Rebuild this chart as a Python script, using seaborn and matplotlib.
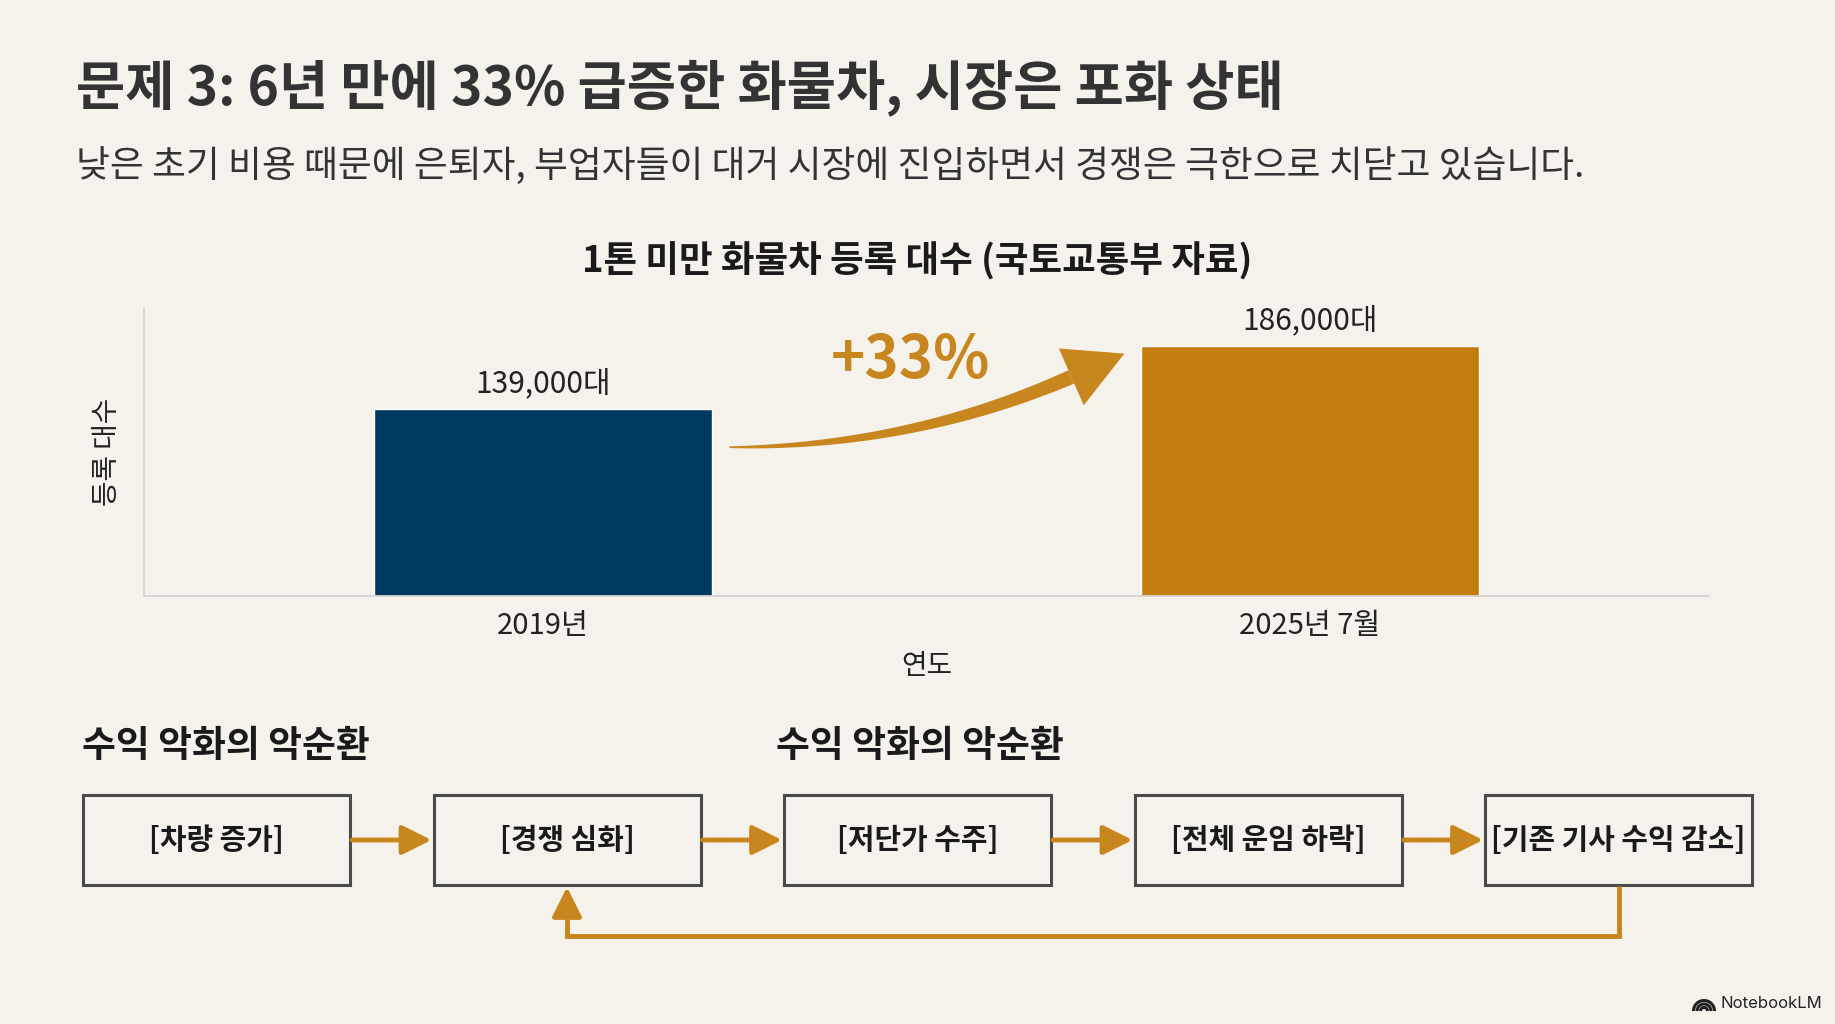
import numpy as np
import seaborn as sns
import pandas as pd
from matplotlib import pyplot as plt
from matplotlib.patches import Rectangle, Polygon, Arc
from matplotlib.transforms import IdentityTransform

# chart data
periods = ["2019년", "2025년 7월"]
registrations = [139000, 186000]
value_labels = ["139,000대", "186,000대"]
growth_label = "+33%"

title = "문제 3: 6년 만에 33% 급증한 화물차, 시장은 포화 상태"
subtitle = "낮은 초기 비용 때문에 은퇴자, 부업자들이 대거 시장에 진입하면서 경쟁은 극한으로 치닫고 있습니다."
chart_title = "1톤 미만 화물차 등록 대수 (국토교통부 자료)"
y_label = "등록 대수"
x_label = "연도"

# vicious circle
cycle_headers = ["수익 악화의 악순환", "수익 악화의 악순환"]
cycle_steps = ["[차량 증가]", "[경쟁 심화]", "[저단가 수주]", "[전체 운임 하락]", "[기존 기사 수익 감소]"]

BG = "#F5F2EC"
NAVY = "#003A61"
ORANGE = "#C47C0E"
ARROW = "#C8861E"
TEXT = "#333333"

sns.set_theme(style="white")
plt.rcParams['font.family'] = ['Noto Sans CJK KR', 'DejaVu Sans']

W, H = 1835, 1024
fig = plt.figure(figsize=(W / 100, H / 100), dpi=100, facecolor=BG)

fig.text(76 / W, 1 - 88 / H, title, fontsize=38.5, fontweight='bold', color=TEXT, va='center', ha='left')
fig.text(76 / W, 1 - 166 / H, subtitle, fontsize=26.5, color=TEXT, va='center', ha='left')
fig.text(0.5, 1 - 261 / H, chart_title, fontsize=26.3, fontweight='bold', color='#1a1a1a',
         va='center', ha='center')

# bar chart
ax = fig.add_axes([144 / W, 1 - 596 / H, (1709 - 144) / W, (596 - 308) / H])
ax.set_facecolor(BG)
df = pd.DataFrame({"period": periods, "count": registrations})
sns.barplot(data=df, x="period", y="count", hue="period", palette=[NAVY, ORANGE],
            width=0.44, legend=False, ax=ax, saturation=1)
ax.set_xlim(-0.52, 1.52)
ax.set_ylim(0, max(registrations) * 1.15)
ax.set_yticks([])
ax.tick_params(axis='x', length=0, pad=11, labelsize=21, labelcolor='#222222')
ax.set_xlabel(x_label, fontsize=20, color='#222222', labelpad=7)
ax.set_ylabel(y_label, fontsize=20, color='#222222', labelpad=16)
for side in ["top", "right"]:
    ax.spines[side].set_visible(False)
for side in ["left", "bottom"]:
    ax.spines[side].set_color("#D3D3D3")
    ax.spines[side].set_linewidth(1.3)

for cont, lab in zip(ax.containers, value_labels):
    ax.bar_label(cont, labels=[lab], padding=7, fontsize=21.5, color='#222222')

# growth arrow between the bars: tapered curved shaft + head, built in display space
half = 0.44 / 2
p0 = ax.transData.transform((0 + half + 0.023, registrations[0] * 0.795))
tip = ax.transData.transform((1 - half - 0.022, registrations[1] * 0.968))
ctrl = np.array([p0[0] + 0.46 * (tip[0] - p0[0]), p0[1]])
d = tip - ctrl
d = d / np.hypot(*d)
n = np.array([-d[1], d[0]])
head_len, head_w = 58, 62
base = tip - d * head_len
t = np.linspace(0, 1, 60)[:, None]
curve = (1 - t) ** 2 * p0 + 2 * (1 - t) * t * ctrl + t ** 2 * base
tang = np.gradient(curve, axis=0)
tang = tang / np.hypot(tang[:, 0], tang[:, 1])[:, None]
norm = np.column_stack([-tang[:, 1], tang[:, 0]])
wid = (1.5 + 13 * t[:, 0] ** 0.8)[:, None] / 2
shaft = np.vstack([curve + norm * wid, (curve - norm * wid)[::-1]])
fig.patches.append(Polygon(shaft, closed=True, color=ARROW, lw=0, transform=IdentityTransform(),
                           figure=fig))
head = np.array([tip, base + n * head_w / 2, base - n * head_w / 2])
fig.patches.append(Polygon(head, closed=True, color=ARROW, lw=0, transform=IdentityTransform(),
                           figure=fig))
ax.text(0.479, registrations[1] * 0.94, growth_label, fontsize=42, fontweight='bold',
        color=ARROW, ha='center', va='center')

# flow diagram, drawn in pixel space
ov = fig.add_axes([0, 0, 1, 1], facecolor='none')
ov.set_xlim(0, W)
ov.set_ylim(H, 0)
ov.axis('off')

ov.text(82, 746, cycle_headers[0], fontsize=26.5, fontweight='bold', color='#1a1a1a', va='center')
ov.text(776, 746, cycle_headers[1], fontsize=26.5, fontweight='bold', color='#1a1a1a', va='center')

bx0, bstep, bw = 83, 350.5, 267
by0, bh = 795, 90
ymid = by0 + bh / 2
for i, step in enumerate(cycle_steps):
    x0 = bx0 + i * bstep
    ov.add_patch(Rectangle((x0, by0), bw, bh, facecolor=BG, edgecolor='#4a4a4a', lw=2.2))
    ov.text(x0 + bw / 2, ymid, step, fontsize=20.8, fontweight='bold', color='#1a1a1a',
            ha='center', va='center')
    if i < len(cycle_steps) - 1:
        ov.annotate("", xy=(x0 + bstep - 2, ymid), xytext=(x0 + bw + 2, ymid),
                    arrowprops=dict(arrowstyle="-|>,head_length=0.9,head_width=0.45",
                                    color=ARROW, lw=3.5, mutation_scale=20, shrinkA=0, shrinkB=0))

# feedback loop from last box back to second box
loop_y = 936
x_last = bx0 + 4 * bstep + bw / 2
x_second = bx0 + bstep + bw / 2
ov.plot([x_last, x_last, x_second, x_second], [by0 + bh + 1, loop_y, loop_y, by0 + bh + 20],
        color=ARROW, lw=3.5, solid_capstyle='butt', solid_joinstyle='miter')
ov.annotate("", xy=(x_second, by0 + bh + 2), xytext=(x_second, by0 + bh + 22),
            arrowprops=dict(arrowstyle="-|>,head_length=0.9,head_width=0.45",
                            color=ARROW, lw=3.5, mutation_scale=20, shrinkA=0, shrinkB=0))

# NotebookLM mark
for r in (3.5, 7, 10.5):
    ov.add_patch(Arc((1704, 1011), 2 * r, 2 * r, theta1=180, theta2=360, color='#222222', lw=2.2))
ov.text(1720, 1004, "NotebookLM", fontsize=12, color='#222222', va='center', ha='left',
        family=['Inter', 'DejaVu Sans'])

fig.savefig("out.png", dpi=100, facecolor=BG)
